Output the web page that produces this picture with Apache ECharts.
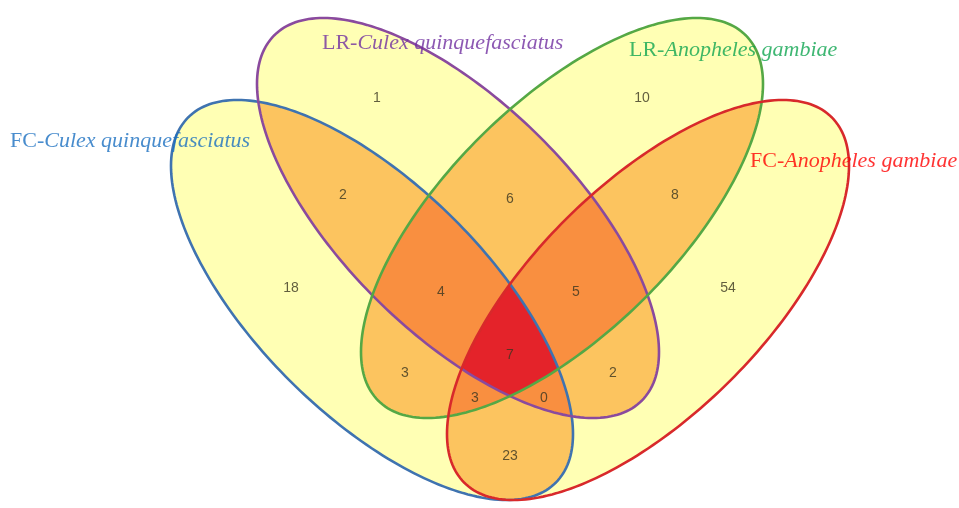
<!DOCTYPE html>
<html><head><meta charset="utf-8">
<script src="https://cdn.jsdelivr.net/npm/echarts@6/dist/echarts.min.js"></script>
<style>html,body{margin:0;padding:0;background:#fff}#c{width:959px;height:508px}</style>
</head><body><div id="c"></div>
<script>
// ---- data ----
const setKeys = ['A', 'B', 'C', 'D'];
const setPrefixes = ['FC-', 'LR-', 'LR-', 'FC-'];
const setSpecies = ['Culex quinquefasciatus', 'Culex quinquefasciatus', 'Anopheles gambiae', 'Anopheles gambiae'];
const regionKeys = ['A', 'B', 'C', 'D', 'AB', 'BC', 'CD', 'AC', 'BD', 'AD', 'ABC', 'BCD', 'ACD', 'ABD', 'ABCD'];
const regionValues = [18, 1, 10, 54, 2, 6, 8, 3, 2, 23, 4, 5, 3, 0, 7];

// ---- layout (positions / styles only) ----
const W = 959, H = 508;
const ellipseLayout = {
  A: { cx: 372, cy: 300, mirror: 1 },
  B: { cx: 458, cy: 218, mirror: 1 },
  C: { cx: 562, cy: 218, mirror: -1 },
  D: { cx: 648, cy: 300, mirror: -1 }
};
const ellW = 201, ellH = 200, ellDelta = Math.acos(0.67);
const strokeColors = { A: '#3f73b0', B: '#8a4a9e', C: '#55a845', D: '#d8292b' };
const textColors = ['#1a6fc0', '#7030a0', '#0fa550', '#ff0000'];
const labelPos = [[10, 141], [322, 43], [629, 50], [750, 161]];
const regionPos = {
  A: [291, 288], B: [377, 98], C: [642, 98], D: [728, 288],
  AB: [343, 195], BC: [510, 199], CD: [675, 195], AC: [405, 373], BD: [613, 373], AD: [510, 456],
  ABC: [441, 292], BCD: [576, 292], ACD: [475, 398], ABD: [544, 398], ABCD: [510, 355]
};
const levelFill = ['#ffffb4', '#fcc45f', '#f98f40', '#e4232a'];

// ---- geometry ----
function ellipsePoly(k) {
  const e = ellipseLayout[k], pts = [], n = 240;
  for (let i = 0; i < n; i++) {
    const t = 2 * Math.PI * i / n;
    pts.push([e.cx + e.mirror * ellW * Math.cos(t), e.cy + ellH * Math.cos(t - ellDelta)]);
  }
  let a = 0;
  for (let i = 0; i < n; i++) { const p = pts[i], q = pts[(i + 1) % n]; a += p[0] * q[1] - q[0] * p[1]; }
  return a < 0 ? pts.reverse() : pts;
}
function clip(subject, clipper) {
  let out = subject;
  for (let i = 0; i < clipper.length && out.length; i++) {
    const a = clipper[i], b = clipper[(i + 1) % clipper.length];
    const inside = p => (b[0] - a[0]) * (p[1] - a[1]) - (b[1] - a[1]) * (p[0] - a[0]) >= 0;
    const inter = (p, q) => {
      const x1 = p[0], y1 = p[1], x2 = q[0], y2 = q[1], x3 = a[0], y3 = a[1], x4 = b[0], y4 = b[1];
      const d = (x1 - x2) * (y3 - y4) - (y1 - y2) * (x3 - x4);
      const t = ((x1 - x3) * (y3 - y4) - (y1 - y3) * (x3 - x4)) / d;
      return [x1 + t * (x2 - x1), y1 + t * (y2 - y1)];
    };
    const inp = out; out = [];
    for (let j = 0; j < inp.length; j++) {
      const p = inp[j], q = inp[(j + 1) % inp.length];
      const pi = inside(p), qi = inside(q);
      if (pi) { out.push(p); if (!qi) out.push(inter(p, q)); }
      else if (qi) { out.push(inter(p, q)); }
    }
  }
  return out;
}
const polys = {}; setKeys.forEach(k => polys[k] = ellipsePoly(k));
function combos(arr, k) {
  if (k === 0) return [[]];
  if (arr.length < k) return [];
  const [h, ...r] = arr;
  return combos(r, k - 1).map(c => [h, ...c]).concat(combos(r, k));
}
const shapes = [];
for (let lvl = 1; lvl <= 4; lvl++) {
  combos(setKeys, lvl).forEach(c => {
    let p = polys[c[0]];
    for (let i = 1; i < c.length; i++) p = clip(p, polys[c[i]]);
    if (p.length > 2) shapes.push({ pts: p, fill: levelFill[lvl - 1], stroke: null });
  });
}
setKeys.forEach(k => shapes.push({ pts: polys[k], fill: null, stroke: strokeColors[k] }));

const chart = echarts.init(document.getElementById('c'), null, { renderer: 'canvas' });
chart.setOption({
  animation: false,
  grid: { left: 0, right: 0, top: 0, bottom: 0 },
  xAxis: { type: 'value', min: 0, max: W, show: false },
  yAxis: { type: 'value', min: 0, max: H, inverse: true, show: false },
  series: [
    {
      type: 'custom', clip: false, silent: true,
      data: shapes.map((s, i) => [i, 0]),
      renderItem: (params, api) => {
        const s = shapes[params.dataIndex];
        return {
          type: 'polygon',
          shape: { points: s.pts.map(p => api.coord(p)) },
          style: s.stroke ? { fill: 'none', stroke: s.stroke, lineWidth: 2.6 } : { fill: s.fill, stroke: null }
        };
      }
    },
    {
      type: 'scatter', symbolSize: 0, silent: true,
      data: regionKeys.map((k, i) => [regionPos[k][0], regionPos[k][1], regionValues[i]]),
      label: {
        show: true, position: 'inside', formatter: p => String(p.value[2]),
        color: '#3a3620', fontSize: 14, fontFamily: 'Arial'
      }
    },
    {
      type: 'scatter', symbolSize: 0, silent: true,
      data: setKeys.map((k, i) => ({
        value: labelPos[i],
        label: {
          formatter: '{p|' + setPrefixes[i] + '}{s|' + setSpecies[i] + '}',
          rich: {
            p: { color: textColors[i], fontSize: 22, fontFamily: 'Liberation Serif' },
            s: { color: textColors[i], fontSize: 22, fontFamily: 'Liberation Serif', fontStyle: 'italic' }
          }
        }
      })),
      label: { show: true, position: 'right', distance: 0 }
    }
  ]
});
</script>
</body></html>
